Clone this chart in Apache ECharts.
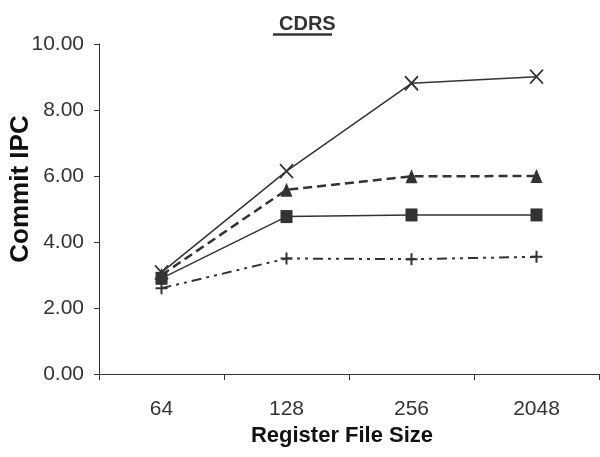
<!DOCTYPE html>
<html><head><meta charset="utf-8">
<script src="https://cdn.jsdelivr.net/npm/echarts@6/dist/echarts.min.js"></script>
<style>html,body{margin:0;padding:0;background:#fff}#c{width:600px;height:457px}</style>
</head><body><div id="c"></div>
<script>
const categories = ['64', '128', '256', '2048'];
const seriesCross = [3.08, 6.15, 8.81, 9.01];
const seriesTriangle = [3.0, 5.58, 5.99, 6.0];
const seriesSquare = [2.9, 4.77, 4.82, 4.82];
const seriesPlus = [2.6, 3.5, 3.48, 3.55];
const yTicks = [0, 2, 4, 6, 8, 10];

const C = '#333333';
const font = 'Liberation Sans, Arial, sans-serif';
const chart = echarts.init(document.getElementById('c'));
chart.setOption({
  animation: false,
  title: {
    text: 'CDRS', left: 274, top: 9,
    textStyle: { fontFamily: font, fontSize: 20, fontWeight: 'bold', color: C }
  },
  graphic: [{ type: 'line', shape: { x1: 273, y1: 34.5, x2: 332, y2: 34.5 }, style: { stroke: C, lineWidth: 2.5 } }],
  grid: { left: 99, right: 1, top: 44, bottom: 83, containLabel: false, outerBoundsMode: 'none' },
  xAxis: {
    type: 'category', data: categories, boundaryGap: true,
    name: 'Register File Size', nameLocation: 'middle', nameGap: 51, nameMoveOverlap: false,
    nameTextStyle: { fontFamily: font, fontSize: 22, fontWeight: 'bold', color: '#111', padding: [0, 14, 0, 0] },
    axisLine: { lineStyle: { color: C, width: 1 } },
    axisTick: { show: true, length: 6, alignWithLabel: false, lineStyle: { color: C } },
    axisLabel: { fontFamily: font, fontSize: 21, color: C, margin: 25 },
    splitLine: { show: false }
  },
  yAxis: {
    type: 'value', min: yTicks[0], max: yTicks[yTicks.length - 1], interval: 2,
    name: 'Commit IPC', nameLocation: 'middle', nameGap: 65, nameMoveOverlap: false,
    nameTextStyle: { fontFamily: font, fontSize: 26, fontWeight: 'bold', color: '#111', padding: [0, 0, 0, 40] },
    axisLine: { show: true, lineStyle: { color: C, width: 1 } },
    axisTick: { show: true, length: 5, lineStyle: { color: C } },
    axisLabel: { fontFamily: font, fontSize: 21, color: C, margin: 15, formatter: v => v.toFixed(2) },
    splitLine: { show: false }
  },
  series: [
    {
      type: 'line', data: seriesSquare, symbol: 'rect', symbolSize: [12, 13],
      itemStyle: { color: C }, lineStyle: { color: C, width: 1.5, type: 'solid' }, z: 3
    },
    {
      type: 'line', data: seriesTriangle, symbol: 'triangle', symbolSize: [12, 14],
      itemStyle: { color: C }, lineStyle: { color: C, width: 2.5, type: [9, 5] }, z: 4
    },
    {
      type: 'line', data: seriesPlus, symbol: 'path://M5,0L5,10M0,5L10,5', symbolSize: 12,
      itemStyle: { color: 'none', borderColor: C, borderWidth: 2 },
      lineStyle: { color: C, width: 2, type: [10, 5, 3, 5, 3, 5] }, z: 2
    },
    {
      type: 'line', data: seriesCross, symbol: 'path://M0,0L10,10M10,0L0,10', symbolSize: [13, 14],
      itemStyle: { color: 'none', borderColor: C, borderWidth: 1.8 },
      lineStyle: { color: C, width: 1.5, type: 'solid' }, z: 5
    }
  ]
});
</script></body></html>
